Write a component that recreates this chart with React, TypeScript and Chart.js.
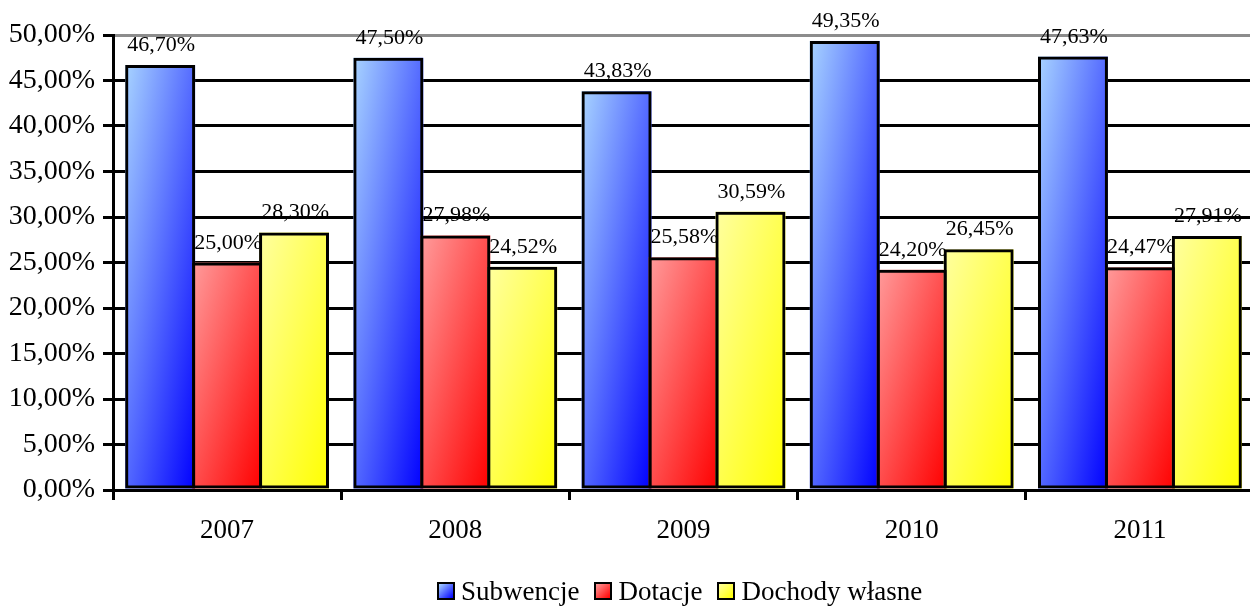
import React, { useEffect, useRef } from 'react';
import { Chart, registerables } from 'chart.js';

Chart.register(...registerables);

// Budget structure by year (share of total revenue, %)
const years = ['2007', '2008', '2009', '2010', '2011'];
const subwencje = [46.7, 47.5, 43.83, 49.35, 47.63];
const dotacje = [25.0, 27.98, 25.58, 24.2, 24.47];
const dochodyWlasne = [28.3, 24.52, 30.59, 26.45, 27.91];
const seriesNames = ['Subwencje', 'Dotacje', 'Dochody własne'];

const yMin = 0;
const yMax = 50;
const yStep = 5;

// light (top-left) -> dark (bottom-right) fill for each series
const seriesGradients: [string, string][] = [
  ['#a8d4ff', '#0000ff'],
  ['#ff9c9c', '#ff0000'],
  ['#ffffa0', '#ffff00'],
];

const FONT = "'Liberation Serif', 'Times New Roman', serif";

const formatPct = (v: number) => v.toFixed(2).replace('.', ',') + '%';

// Paints every bar with a corner-to-corner gradient in the bar's own box
const barGradientPlugin = {
  id: 'barGradient',
  beforeDatasetsDraw(chart: any) {
    const ctx = chart.ctx as CanvasRenderingContext2D;
    chart.data.datasets.forEach((_ds: any, di: number) => {
      const meta = chart.getDatasetMeta(di);
      if (meta.hidden) return;
      const [light, dark] = seriesGradients[di];
      meta.data.forEach((bar: any) => {
        const { x, y, base, width } = bar.getProps(['x', 'y', 'base', 'width'], true);
        const left = x - width / 2;
        const top = Math.min(y, base);
        const h = Math.abs(base - y);
        if (h <= 0 || width <= 0) return;
        ctx.save();
        ctx.translate(left, top);
        ctx.scale(width, h);
        const g = ctx.createLinearGradient(0, 0, 1, 1);
        g.addColorStop(0, light);
        g.addColorStop(1, dark);
        ctx.fillStyle = g;
        ctx.fillRect(0, 0, 1, 1);
        ctx.restore();
      });
    });
  },
};

// Value label above each bar
const valueLabelPlugin = {
  id: 'valueLabels',
  afterDatasetsDraw(chart: any) {
    const ctx = chart.ctx as CanvasRenderingContext2D;
    ctx.save();
    ctx.font = `22px ${FONT}`;
    ctx.fillStyle = '#000';
    ctx.textAlign = 'center';
    ctx.textBaseline = 'alphabetic';
    chart.data.datasets.forEach((ds: any, di: number) => {
      const meta = chart.getDatasetMeta(di);
      meta.data.forEach((bar: any, i: number) => {
        const { x, y } = bar.getProps(['x', 'y'], true);
        ctx.fillText(formatPct(ds.data[i]), x + 1, y - 14);
      });
    });
    ctx.restore();
  },
};

export default function App() {
  const canvasRef = useRef<HTMLCanvasElement | null>(null);

  useEffect(() => {
    const canvas = canvasRef.current;
    if (!canvas) return;
    const seriesData = [subwencje, dotacje, dochodyWlasne];
    const chart = new Chart(canvas, {
      type: 'bar',
      data: {
        labels: years,
        datasets: seriesData.map((values, i) => ({
          label: seriesNames[i],
          data: values,
          backgroundColor: 'rgba(0,0,0,0)',
          borderColor: '#000',
          borderWidth: 3,
          borderSkipped: false,
          barPercentage: 1.045,
          categoryPercentage: 0.88,
        })),
      },
      options: {
        responsive: false,
        animation: false,
        devicePixelRatio: 1,
        layout: { padding: { top: 35, left: 0, right: 0, bottom: 57 } },
        plugins: {
          legend: { display: false },
          tooltip: { enabled: false },
        },
        scales: {
          x: {
            grid: {
              offset: true,
              drawOnChartArea: false,
              drawTicks: true,
              tickLength: 10,
              color: '#000',
              lineWidth: 3,
            },
            border: { color: '#000', width: 3 },
            ticks: {
              color: '#000',
              font: { family: FONT, size: 27 },
              padding: 15,
            },
            afterFit: (s: any) => {
              s.height = 60;
            },
          },
          y: {
            min: yMin,
            max: yMax,
            ticks: {
              stepSize: yStep,
              color: '#000',
              font: { family: FONT, size: 28 },
              padding: 8,
              callback: (v: any) => formatPct(Number(v)),
            },
            grid: {
              color: (c: any) => (c.tick && c.tick.value === yMax ? '#8c8c8c' : '#000'),
              tickColor: '#000',
              lineWidth: 3,
              tickLength: 10,
            },
            border: { color: '#000', width: 3 },
            afterFit: (s: any) => {
              s.width = 113;
            },
          },
        },
      },
      plugins: [barGradientPlugin, valueLabelPlugin],
    });
    return () => chart.destroy();
  }, []);

  return (
    <div
      style={{
        position: 'fixed',
        left: 0,
        top: 0,
        width: 1250,
        height: 607,
        overflow: 'hidden',
        background: '#fff',
      }}
    >
      <canvas ref={canvasRef} width={1254} height={607} style={{ display: 'block' }} />
      <div
        style={{
          position: 'absolute',
          left: 437,
          top: 576,
          display: 'flex',
          alignItems: 'center',
          whiteSpace: 'nowrap',
          fontFamily: FONT,
          fontSize: 27,
          lineHeight: '30px',
          color: '#000',
        }}
      >
        {seriesNames.map((name, i) => (
          <div
            key={name}
            style={{ display: 'flex', alignItems: 'center', marginRight: i < seriesNames.length - 1 ? 15 : 0 }}
          >
            <span
              style={{
                display: 'inline-block',
                width: 18,
                height: 18,
                boxSizing: 'border-box',
                border: '2px solid #000',
                background: `linear-gradient(to bottom right, ${seriesGradients[i][0]}, ${seriesGradients[i][1]})`,
                marginRight: 6,
              }}
            />
            <span>{name}</span>
          </div>
        ))}
      </div>
    </div>
  );
}
